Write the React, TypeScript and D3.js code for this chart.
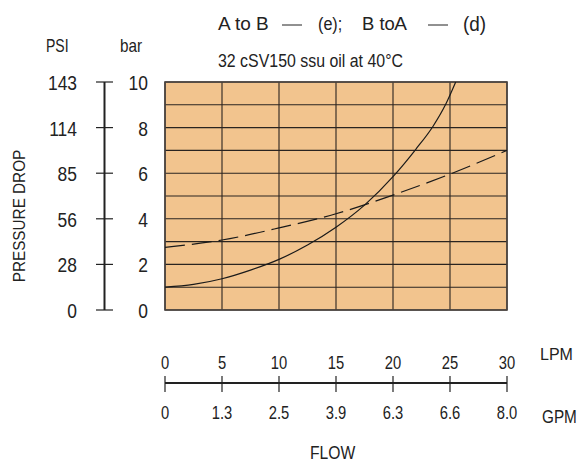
import React from "react";
import * as d3 from "d3";

const lpmTicks = [0, 5, 10, 15, 20, 25, 30];
const gpmLabels = ["0", "1.3", "2.5", "3.9", "6.3", "6.6", "8.0"];
const barTicks = [0, 2, 4, 6, 8, 10];
const psiLabels = ["0", "28", "56", "85", "114", "143"];

const solidFlow = [0, 2.5, 5, 7.5, 10, 12.5, 15, 17.5, 20, 22, 23.5, 24.6, 25.5];
const solidDrop = [1.0, 1.12, 1.37, 1.75, 2.22, 2.85, 3.63, 4.6, 5.85, 7.05, 8.05, 9.0, 10.0];
const dashedFlow = [0, 5, 10, 15, 20, 25, 30];
const dashedDrop = [2.75, 3.07, 3.6, 4.22, 5.04, 5.96, 7.0];

const FONT = "'Liberation Sans', Arial, sans-serif";
const INK = "#222";

type TProps = {
  x: number;
  y: number;
  size: number;
  sx?: number;
  anchor?: "start" | "middle" | "end";
  rotate?: number;
  children: React.ReactNode;
};

function T({ x, y, size, sx = 1, anchor = "start", rotate = 0, children }: TProps) {
  return (
    <text
      transform={`translate(${x},${y}) rotate(${rotate}) scale(${sx},1)`}
      textAnchor={anchor}
      fontSize={size}
      fill={INK}
    >
      {children}
    </text>
  );
}

export default function App() {
  const W = 579, H = 462;
  const x = d3.scaleLinear().domain([0, 30]).range([165, 507]);
  const y = d3.scaleLinear().domain([0, 10]).range([310, 82]);
  const gridY = d3.range(0, 11, 1);
  const gridX = d3.range(0, 31, 5);

  const line = d3
    .line<[number, number]>()
    .x((d) => x(d[0]))
    .y((d) => y(d[1]))
    .curve(d3.curveMonotoneX);

  const solidPts: [number, number][] = solidFlow.map((f, i) => [f, solidDrop[i]]);
  const dashedPts: [number, number][] = dashedFlow.map((f, i) => [f, dashedDrop[i]]);

  const axisX = 104.5;
  const axisY = 383;

  return (
    <svg width={W} height={H} style={{ position: "absolute", left: 0, top: 0, background: "#fff" }} fontFamily={FONT}>
      <defs>
        <clipPath id="plotclip">
          <rect x={x(0)} y={y(10)} width={x(30) - x(0)} height={y(0) - y(10)} />
        </clipPath>
      </defs>

      {/* legend / title */}
      <T x={218} y={30} size={19}>A to B</T>
      <line x1={282} x2={302} y1={25} y2={25} stroke={INK} strokeWidth={1} />
      <T x={318} y={30} size={19} sx={0.85}>(e);</T>
      <T x={362} y={30} size={19} sx={0.97}>B to</T>
      <T x={407} y={30} size={19} anchor="end">A</T>
      <line x1={428} x2={448} y1={25} y2={25} stroke={INK} strokeWidth={1} />
      <T x={463} y={31} size={21} sx={0.9}>(d)</T>
      <T x={218} y={67} size={18.5} sx={0.86}>32 cSV150 ssu oil at 40°C</T>

      <T x={46} y={52} size={18} sx={0.78}>PSI</T>
      <T x={120} y={52} size={18} sx={0.85}>bar</T>

      {/* plot background */}
      <rect x={x(0)} y={y(10)} width={x(30) - x(0)} height={y(0) - y(10)} fill="#F2C48E" />
      {gridY.map((v) => (
        <line key={"gy" + v} x1={x(0)} x2={x(30)} y1={y(v)} y2={y(v)} stroke="#2a2420" strokeWidth={1.1} />
      ))}
      {gridX.map((v) => (
        <line key={"gx" + v} x1={x(v)} x2={x(v)} y1={y(0)} y2={y(10)} stroke="#2a2420" strokeWidth={1.1} />
      ))}
      <rect x={x(0)} y={y(10)} width={x(30) - x(0)} height={y(0) - y(10)} fill="none" stroke="#4a4440" strokeWidth={1.6} />

      <g clipPath="url(#plotclip)">
        <path d={line(solidPts) || ""} fill="none" stroke="#1a1a1a" strokeWidth={1.2} />
        <path d={line(dashedPts) || ""} fill="none" stroke="#1a1a1a" strokeWidth={1.2} strokeDasharray="20,7" />
      </g>

      {/* left axis */}
      <line x1={axisX} x2={axisX} y1={y(10)} y2={y(0)} stroke={INK} strokeWidth={2} />
      {barTicks.map((v, i) => (
        <g key={"lt" + v}>
          <line x1={96} x2={113} y1={y(v)} y2={y(v)} stroke={INK} strokeWidth={1.2} />
          <T x={77} y={y(v) + 8} size={21} sx={0.83} anchor="end">{psiLabels[i]}</T>
          <T x={148} y={y(v) + 8} size={21} sx={0.83} anchor="end">{v}</T>
        </g>
      ))}
      <T x={25} y={216} size={17} sx={0.9} anchor="middle" rotate={-90}>PRESSURE DROP</T>

      {/* bottom axis */}
      <line x1={x(0)} x2={x(30)} y1={axisY} y2={axisY} stroke={INK} strokeWidth={2} />
      {lpmTicks.map((v, i) => (
        <g key={"bt" + v}>
          <line x1={x(v)} x2={x(v)} y1={376} y2={392} stroke={INK} strokeWidth={1.2} />
          <T x={x(v)} y={369} size={18} sx={0.82} anchor="middle">{v}</T>
          <T x={x(v)} y={419} size={18} sx={0.82} anchor="middle">{gpmLabels[i]}</T>
        </g>
      ))}
      <T x={540} y={360} size={16}>LPM</T>
      <T x={542} y={423} size={18} sx={0.85}>GPM</T>
      <T x={310} y={459} size={18} sx={0.87}>FLOW</T>
    </svg>
  );
}
